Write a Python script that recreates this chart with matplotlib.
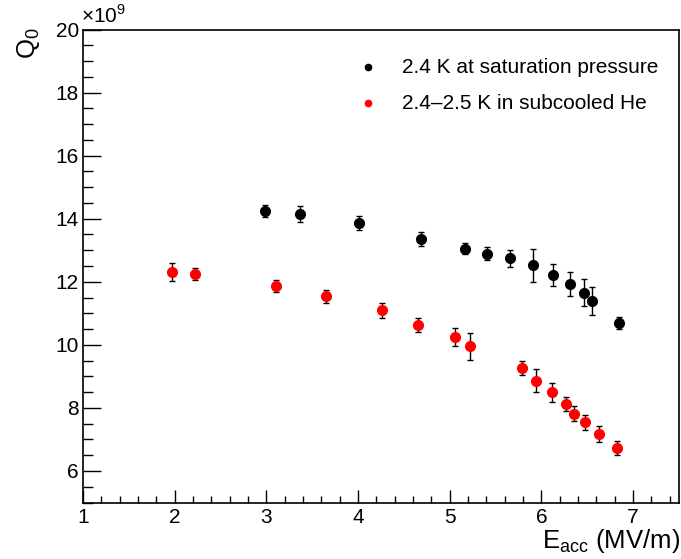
import numpy as np
import matplotlib.pyplot as plt
from matplotlib.ticker import MultipleLocator

plt.rcParams["font.family"] = ["Liberation Sans", "DejaVu Sans"]
plt.rcParams["mathtext.fontset"] = "custom"
plt.rcParams["mathtext.rm"] = "Liberation Sans"

# 2.4 K at saturation pressure
e_sat = [2.99, 3.37, 4.01, 4.69, 5.17, 5.41, 5.66, 5.91, 6.13, 6.31, 6.46, 6.55, 6.85]
q_sat = [14.25, 14.14, 13.87, 13.36, 13.05, 12.89, 12.74, 12.52, 12.21, 11.92, 11.65, 11.39, 10.68]
dq_sat = [0.20, 0.25, 0.23, 0.21, 0.18, 0.21, 0.26, 0.53, 0.34, 0.38, 0.43, 0.45, 0.19]

# 2.4-2.5 K in subcooled He
e_sub = [1.97, 2.22, 3.11, 3.65, 4.26, 4.65, 5.06, 5.22, 5.79, 5.94, 6.12, 6.27, 6.35, 6.48, 6.63, 6.82]
q_sub = [12.31, 12.24, 11.87, 11.54, 11.10, 10.62, 10.24, 9.96, 9.26, 8.86, 8.50, 8.12, 7.81, 7.54, 7.17, 6.74]
dq_sub = [0.28, 0.19, 0.20, 0.21, 0.24, 0.22, 0.28, 0.43, 0.23, 0.36, 0.30, 0.23, 0.24, 0.24, 0.26, 0.22]

fig = plt.figure(figsize=(6.81, 5.59), dpi=100)
ax = fig.add_axes([83 / 681, 1 - 502.5 / 559, (679 - 83) / 681, (502.5 - 29.5) / 559])

ax.errorbar(e_sat, q_sat, yerr=dq_sat, fmt="o", color="black", ms=7,
            ecolor="black", elinewidth=1, capsize=2.5, capthick=1)
ax.errorbar(e_sub, q_sub, yerr=dq_sub, fmt="o", color="red", ms=7,
            ecolor="black", elinewidth=1, capsize=2.5, capthick=1)

ax.set_xlim(1, 7.5)
ax.set_ylim(5, 20)

ax.xaxis.set_major_locator(MultipleLocator(1))
ax.xaxis.set_minor_locator(MultipleLocator(0.2))
ax.yaxis.set_major_locator(MultipleLocator(2))
ax.yaxis.set_minor_locator(MultipleLocator(0.5))

ax.tick_params(axis="x", which="major", direction="in", length=9.5, width=1, labelsize=15, pad=4)
ax.tick_params(axis="x", which="minor", direction="in", length=5, width=1)
ax.tick_params(axis="y", which="major", direction="in", length=13, width=1, labelsize=15, pad=3)
ax.tick_params(axis="y", which="minor", direction="in", length=7, width=1)

for s in ax.spines.values():
    s.set_linewidth(1.2)

fig.text(680 / 681, 1 - 541 / 559, r"E$_{\mathrm{acc}}$ (MV/m)", ha="right", va="center", fontsize=18.5)
fig.text(28 / 681, 1 - 43 / 559, r"Q$_{0}$", ha="center", va="center", fontsize=18.5, rotation=90)
fig.text(81 / 681, 1 - 16 / 559, r"$\times$10$^{9}$", ha="left", va="center", fontsize=15)

# legend
lx = 368 / 681
for y, col, lab in [(67.3, "black", "2.4 K at saturation pressure"),
                    (103.3, "red", "2.4\u20132.5 K in subcooled He")]:
    fig.add_artist(plt.Line2D([lx], [1 - y / 559], marker="o", color=col, ms=4.5,
                              transform=fig.transFigure))
    fig.text(402 / 681, 1 - y / 559, lab, ha="left", va="center", fontsize=15)

fig.savefig("out.png", dpi=100)
